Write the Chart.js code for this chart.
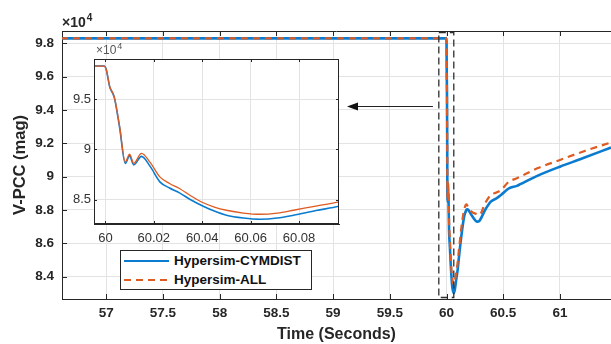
<!DOCTYPE html>
<html>
<head>
<meta charset="utf-8">
<script src="https://cdn.jsdelivr.net/npm/chart.js@4.4.1/dist/chart.umd.min.js"></script>
<style>
body{margin:0;background:#fff;overflow:hidden;font-family:"Liberation Sans",Arial,sans-serif;}
#wrap{position:relative;width:611px;height:344px;}
#mainChart{position:absolute;left:0;top:0;width:611px;height:344px;}
#insetChart{position:absolute;left:60px;top:40px;width:290px;height:210px;}
#legend{position:absolute;left:120px;top:250px;width:190px;height:38px;border:1px solid #262626;background:#fff;}
#legend .row{position:absolute;left:0;height:20px;width:190px;}
#legend svg{position:absolute;left:2px;top:0;}
#legend span{position:absolute;left:53px;top:2px;font-weight:bold;font-size:13.5px;color:#111;white-space:nowrap;}
</style>
</head>
<body>
<div id="wrap">
<canvas id="mainChart" width="611" height="344"></canvas>
<canvas id="insetChart" width="290" height="210"></canvas>
<div id="legend">
  <div class="row" style="top:0px"><svg width="48" height="20"><line x1="1" y1="10" x2="46" y2="10" stroke="#0a7bcf" stroke-width="2.2"/></svg><span>Hypersim-CYMDIST</span></div>
  <div class="row" style="top:19px"><svg width="48" height="20"><line x1="1" y1="10" x2="46" y2="10" stroke="#DE5B22" stroke-width="2" stroke-dasharray="7,5"/></svg><span>Hypersim-ALL</span></div>
</div>
</div>
<script>
// time in seconds
let time=[56.6,59.9995,60.0003,60.0018,60.0031,60.0038,60.0059,60.0082,60.0100,60.0117,60.0149,60.0185,60.0225,60.0265,60.0306,60.0354,60.0402,60.045,60.05,60.057,60.064,60.071,60.0777,60.087,60.0965,60.11,60.13,60.155,60.175,60.185,60.22,60.27,60.29,60.34,60.39,60.44,60.48,60.55,60.62,60.65,60.8,61.0,61.2,61.45];

// V-PCC (mag), in units of 10^4
let hypersimAll=[9.830,9.830,9.800,9.626,9.560,9.510,9.226,8.876,8.952,8.860,8.960,8.870,8.726,8.660,8.610,8.535,8.470,8.425,8.393,8.365,8.353,8.365,8.393,8.435,8.476,8.565,8.690,8.800,8.834,8.825,8.790,8.775,8.770,8.840,8.890,8.905,8.920,8.970,8.990,9.000,9.050,9.100,9.150,9.205];
let hypersimCymdist=[9.830,9.830,9.800,9.620,9.555,9.505,9.215,8.860,8.935,8.845,8.930,8.830,8.676,8.615,8.566,8.495,8.436,8.385,8.343,8.315,8.303,8.315,8.343,8.390,8.433,8.520,8.640,8.760,8.800,8.804,8.770,8.730,8.735,8.800,8.850,8.870,8.890,8.930,8.945,8.955,9.005,9.060,9.110,9.175];

let blue="#0a7bcf";
let orange="#DE5B22";
let axisCol="#262626";
let gridCol="#e3e3e3";
let fontFam='"Liberation Sans", Arial, sans-serif';

function pts(arr){
return time.map((t,i)=>({x:t,y:arr[i]}));
}

function fmt(v){
return parseFloat(v.toFixed(3)).toString();
}

function line(ctx,x1,y1,x2,y2){
ctx.beginPath();
ctx.moveTo(x1,y1);
ctx.lineTo(x2,y2);
ctx.stroke();
}

function drawExp(ctx,x,y,bold,size,color){
ctx.fillStyle=color;
ctx.textBaseline="alphabetic";
ctx.textAlign="left";
ctx.font=(bold?"bold ":"")+size+"px "+fontFam;
ctx.fillText("\u00d710",x,y);
let w=ctx.measureText("\u00d710").width;
ctx.font=(bold?"bold ":"")+Math.round(size*0.72)+"px "+fontFam;
ctx.fillText("4",x+w+1,y-size*0.45);
}

let mainDecor={
id:"mainDecor",
afterDraw(chart){
let ctx=chart.ctx;
let a=chart.chartArea;
let x=chart.scales.x;
let y=chart.scales.y;
ctx.save();
ctx.strokeStyle=axisCol;
ctx.lineWidth=1;
line(ctx,a.left,a.top+0.5,a.right,a.top+0.5);
x.ticks.forEach(t=>{
let px=Math.round(x.getPixelForValue(t.value))+0.5;
line(ctx,px,a.bottom,px,a.bottom-5);
line(ctx,px,a.top,px,a.top+5);
});
y.ticks.forEach(t=>{
let py=Math.round(y.getPixelForValue(t.value))+0.5;
line(ctx,a.left,py,a.left+5,py);
});
// zoom window
let x1=x.getPixelForValue(59.932);
let x2=x.getPixelForValue(60.064);
ctx.strokeStyle="#2e2e2e";
ctx.lineWidth=1.3;
ctx.setLineDash([7,4]);
ctx.strokeRect(x1,a.top+1.5,x2-x1,a.bottom-a.top-3);
ctx.setLineDash([]);
// arrow to inset
let ay=Math.round(y.getPixelForValue(9.424))+0.5;
let ax=x.getPixelForValue(59.88);
let tip=347;
ctx.strokeStyle="#222";
ctx.lineWidth=1.2;
line(ctx,ax,ay,tip+8,ay);
ctx.fillStyle="#111";
ctx.beginPath();
ctx.moveTo(tip,ay);
ctx.lineTo(tip+11,ay-4);
ctx.lineTo(tip+11,ay+4);
ctx.closePath();
ctx.fill();
drawExp(ctx,a.left,27,true,14,axisCol);
ctx.restore();
}
};

let insetDecor={
id:"insetDecor",
beforeDraw(chart){
let a=chart.chartArea;
chart.ctx.save();
chart.ctx.fillStyle="#fff";
chart.ctx.fillRect(a.left,a.top,a.right-a.left,a.bottom-a.top);
chart.ctx.restore();
},
afterDraw(chart){
let ctx=chart.ctx;
let a=chart.chartArea;
let x=chart.scales.x;
let y=chart.scales.y;
ctx.save();
ctx.strokeStyle=axisCol;
ctx.lineWidth=1;
ctx.strokeRect(Math.round(a.left)+0.5,Math.round(a.top)+0.5,Math.round(a.right-a.left)-1,Math.round(a.bottom-a.top)-1);
x.ticks.forEach(t=>{
let px=Math.round(x.getPixelForValue(t.value))+0.5;
line(ctx,px,a.bottom,px,a.bottom-3);
line(ctx,px,a.top,px,a.top+3);
});
y.ticks.forEach(t=>{
let py=Math.round(y.getPixelForValue(t.value))+0.5;
line(ctx,a.left,py,a.left+3,py);
line(ctx,a.right,py,a.right-3,py);
});
drawExp(ctx,a.left+2,a.top-5,false,12,"#555");
ctx.restore();
}
};

new Chart(document.getElementById("mainChart"),{
type:"line",
data:{
datasets:[{
label:"Hypersim-ALL",
data:pts(hypersimAll),
borderColor:orange,
borderWidth:2.2,
borderDash:[7,5],
pointRadius:0,
cubicInterpolationMode:"monotone"
},{
label:"Hypersim-CYMDIST",
data:pts(hypersimCymdist),
borderColor:blue,
borderWidth:2.6,
pointRadius:0,
cubicInterpolationMode:"monotone"
}]
},
options:{
responsive:false,
animation:false,
devicePixelRatio:1,
layout:{padding:{top:31,right:0,left:0,bottom:0}},
plugins:{legend:{display:false},tooltip:{enabled:false}},
scales:{
x:{
type:"linear",
min:56.61,
max:61.45,
afterFit:s=>{s.height=45;},
ticks:{stepSize:0.5,includeBounds:false,padding:6,color:axisCol,font:{family:fontFam,size:13.5,weight:"bold"},callback:v=>fmt(v)},
grid:{color:gridCol,drawTicks:false},
border:{color:axisCol,width:1},
title:{display:true,text:"Time (Seconds)",color:axisCol,font:{family:fontFam,size:16,weight:"bold"},padding:{top:0,bottom:0}}
},
y:{
min:8.266,
max:9.874,
afterFit:s=>{s.width=62;},
ticks:{stepSize:0.2,includeBounds:false,padding:8,color:axisCol,font:{family:fontFam,size:13.5,weight:"bold"},callback:v=>fmt(v)},
grid:{color:gridCol,drawTicks:false},
border:{color:axisCol,width:1},
title:{display:true,text:"V-PCC (mag)",color:axisCol,font:{family:fontFam,size:16.5,weight:"bold"},padding:{top:11,bottom:0}}
}
}
},
plugins:[mainDecor]
});

new Chart(document.getElementById("insetChart"),{
type:"line",
data:{
datasets:[{
label:"Hypersim-ALL",
data:pts(hypersimAll),
borderColor:orange,
borderWidth:1.3,
pointRadius:0,
cubicInterpolationMode:"monotone"
},{
label:"Hypersim-CYMDIST",
data:pts(hypersimCymdist),
borderColor:blue,
borderWidth:1.6,
pointRadius:0,
cubicInterpolationMode:"monotone"
}]
},
options:{
responsive:false,
animation:false,
devicePixelRatio:1,
layout:{padding:{top:19,right:11,left:0,bottom:0}},
plugins:{legend:{display:false},tooltip:{enabled:false}},
scales:{
x:{
type:"linear",
min:59.9953,
max:60.0965,
afterFit:s=>{s.height=26;},
ticks:{stepSize:0.02,includeBounds:false,padding:7,color:"#333",font:{family:fontFam,size:13},callback:v=>fmt(v)},
grid:{color:gridCol,drawTicks:false},
border:{color:axisCol,width:1}
},
y:{
min:8.256,
max:9.9,
afterFit:s=>{s.width=34;},
ticks:{stepSize:0.5,includeBounds:false,padding:3,color:"#333",font:{family:fontFam,size:13},callback:v=>fmt(v)},
grid:{color:gridCol,drawTicks:false},
border:{color:axisCol,width:1}
}
}
},
plugins:[insetDecor]
});
</script>
</body>
</html>
